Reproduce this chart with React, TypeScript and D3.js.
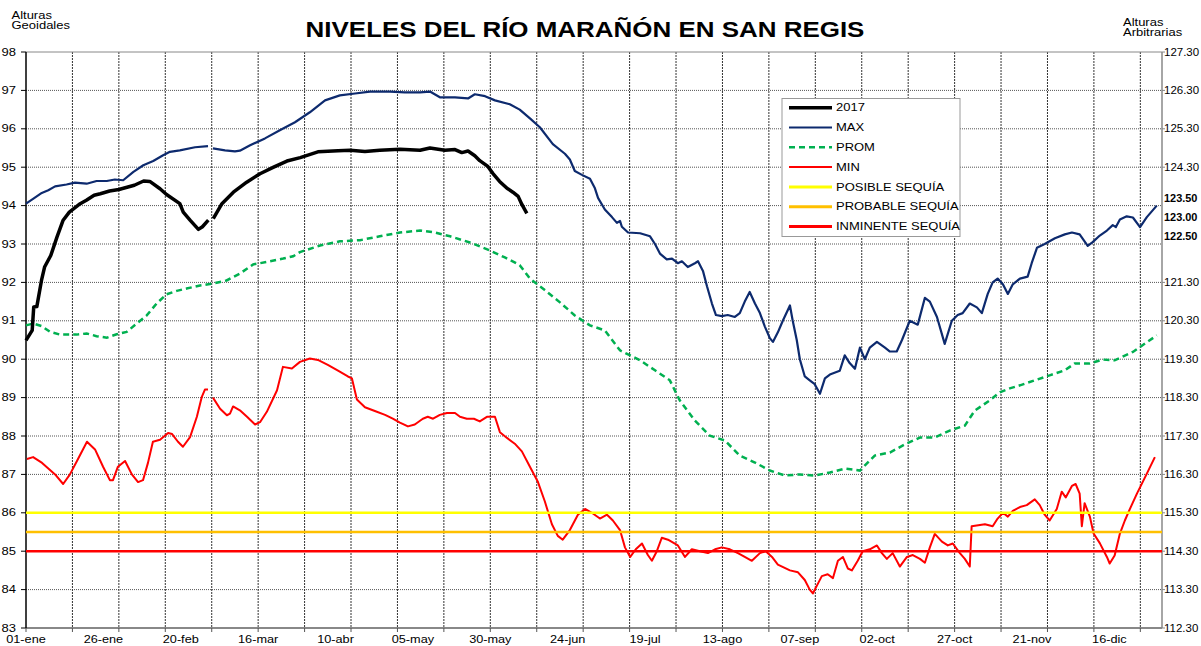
import * as d3 from 'd3';

type Pt = [number, number | null];

// day-of-year (leap year axis, 0 = 01-ene) and level in metres
const SERIE_2017: Pt[] = [
  [0, 90.49], [2, 90.75], [2.5, 91.36], [3.5, 91.37], [5, 92.05], [6, 92.4], [8, 92.7], [10, 93.18],
  [12, 93.62], [14, 93.83], [17.5, 94.05], [19.5, 94.14], [22, 94.27], [24, 94.31], [27, 94.38],
  [30, 94.42], [35, 94.53], [38, 94.64], [40, 94.63], [43.3, 94.44], [45.4, 94.29], [49.7, 94.05],
  [50.8, 93.83], [53, 93.62], [55.7, 93.38], [57, 93.45], [58.9, 93.62], [59.5, null],
  [60.5, 93.66], [63.3, 94.05], [67, 94.35], [71.3, 94.61], [75.6, 94.83], [80, 95.0], [84.3, 95.16],
  [88.6, 95.25], [94.3, 95.4], [100.8, 95.43], [104.7, 95.44], [109.5, 95.41], [114.3, 95.44],
  [120.8, 95.47], [127.3, 95.44], [130.5, 95.5], [135.3, 95.44], [138.6, 95.46], [140.8, 95.38],
  [142.8, 95.42], [145, 95.3], [146.6, 95.17], [149.2, 95.02], [150.8, 94.84], [153, 94.63],
  [155.4, 94.45], [157.3, 94.35], [159, 94.24], [160.2, 94.03], [161.8, 93.8],
];

const SERIE_MAX: Pt[] = [
  [0, 94.05], [2.4, 94.18], [5.1, 94.33], [7.2, 94.4], [9.4, 94.5], [13.1, 94.55], [15.8, 94.6],
  [19.6, 94.57], [22.8, 94.64], [26.1, 94.64], [28.7, 94.68], [31.4, 94.66], [34.7, 94.88],
  [37.9, 95.05], [41.1, 95.16], [44.3, 95.31], [46.5, 95.4], [49.7, 95.44], [54.6, 95.52],
  [58.8, 95.55], [59.5, null], [60.4, 95.49], [64.3, 95.44], [67.5, 95.41], [69.1, 95.43],
  [72.4, 95.57], [77.2, 95.75], [82, 95.96], [86.9, 96.17], [91.7, 96.43], [96.6, 96.74],
  [101.4, 96.87], [106.3, 96.92], [111.1, 96.97], [117.6, 96.97], [122.4, 96.95], [127.3, 96.95],
  [130.5, 96.97], [133.7, 96.82], [138.6, 96.82], [142.8, 96.79], [145, 96.9], [148.3, 96.85],
  [151.5, 96.74], [156.3, 96.64], [159.5, 96.5], [162.8, 96.27], [166, 96.04], [170.2, 95.6],
  [174.1, 95.35], [175.7, 95.2], [177.3, 94.9], [179.6, 94.8], [182.2, 94.7], [183.8, 94.45],
  [184.8, 94.2], [187, 93.9], [189.3, 93.7], [190.9, 93.55], [191.9, 93.6], [192.5, 93.45],
  [194.5, 93.3], [198.4, 93.28], [201.6, 93.2], [203.2, 93.0], [204.8, 92.75], [207, 92.6],
  [208.7, 92.62], [210.6, 92.5], [211.9, 92.55], [213.8, 92.4], [216.1, 92.5], [217.1, 92.55],
  [218.7, 92.3], [220, 91.9], [221.6, 91.45], [222.9, 91.15], [224.8, 91.12], [226.7, 91.15],
  [229, 91.1], [230.6, 91.2], [232.2, 91.5], [233.8, 91.75], [235.5, 91.45], [237.1, 91.2],
  [238.7, 90.85], [240.3, 90.55], [241.3, 90.45], [242.9, 90.7], [244.5, 91.0], [246.8, 91.4],
  [247.7, 91.0], [249, 90.5], [250, 90.0], [251.6, 89.55], [253.2, 89.45], [254.8, 89.35],
  [256.5, 89.1], [258.1, 89.5], [259.7, 89.6], [262.9, 89.7], [264.5, 90.1], [266.1, 89.9],
  [267.8, 89.75], [269.4, 90.3], [271, 90.0], [272.6, 90.3], [274.9, 90.45], [277.5, 90.3],
  [279.1, 90.2], [281.3, 90.2], [283, 90.5], [285.5, 91.0], [288.1, 90.9], [290.4, 91.6],
  [292, 91.5], [294.3, 91.1], [296.8, 90.4], [299.1, 91.0], [301, 91.15], [302.6, 91.2],
  [304.9, 91.45], [307.2, 91.35], [308.8, 91.2], [310.7, 91.7], [312.3, 92.0], [313.9, 92.1],
  [315.6, 91.95], [317.2, 91.7], [318.8, 91.95], [321.1, 92.1], [323.6, 92.15], [324.9, 92.5],
  [326.6, 92.9], [329.1, 93.0], [332.4, 93.15], [335.6, 93.25], [337.9, 93.3], [340.4, 93.25],
  [343, 92.95], [344.6, 93.05], [346.9, 93.22], [349.2, 93.35], [351.1, 93.49], [352.1, 93.44],
  [353.4, 93.64], [355.6, 93.72], [357.6, 93.69], [359.9, 93.44], [362.1, 93.7], [365.3, 94.0],
];

const SERIE_PROM: Pt[] = [
  [0, 90.88], [2.4, 90.93], [5.1, 90.86], [7.8, 90.71], [11, 90.64], [16.4, 90.64], [19.6, 90.67],
  [22.8, 90.6], [26.1, 90.56], [29.3, 90.65], [32.5, 90.71], [35.8, 90.93], [39, 91.14],
  [42.2, 91.45], [45.4, 91.69], [48.7, 91.78], [51.9, 91.84], [56.2, 91.92], [60.5, 91.97],
  [64.8, 92.05], [69.1, 92.23], [73.4, 92.47], [77.7, 92.53], [83.1, 92.62], [86.3, 92.68],
  [88.5, 92.79], [95, 92.96], [101.4, 93.07], [107.9, 93.1], [114.3, 93.2], [120.8, 93.3],
  [127.3, 93.35], [132.1, 93.3], [137, 93.2], [143.4, 93.04], [149.9, 92.83], [154.7, 92.65],
  [159.5, 92.45], [162.8, 92.1], [167.6, 91.8], [172.5, 91.48], [177.3, 91.14], [182.2, 90.88],
  [187, 90.75], [191.9, 90.23], [198.4, 89.97], [203.2, 89.71], [208, 89.45], [211.2, 88.93],
  [216.1, 88.4], [220.9, 88.01], [225.8, 87.88], [230.6, 87.49], [235.5, 87.31], [240.3, 87.1],
  [245.2, 86.97], [250, 87.0], [254.8, 86.97], [259.7, 87.05], [264.5, 87.15], [269.4, 87.1],
  [274.2, 87.49], [279.1, 87.57], [283.9, 87.78], [288.8, 87.96], [293.6, 87.96], [298.4, 88.14],
  [303.3, 88.27], [306.5, 88.66], [311.4, 88.93], [314.6, 89.14], [317.8, 89.24], [321.1, 89.32],
  [325.9, 89.45], [330.7, 89.58], [335.6, 89.71], [338.8, 89.89], [343.7, 89.89], [347.9, 89.99],
  [351.7, 89.97], [357.6, 90.19], [365.3, 90.62],
];

const SERIE_MIN: Pt[] = [
  [0.3, 87.4], [2.3, 87.45], [5.2, 87.3], [9.4, 87.0], [12, 86.75], [14.2, 87.0], [16.8, 87.4],
  [19.7, 87.85], [22.3, 87.65], [24.9, 87.2], [27.1, 86.85], [28.1, 86.85], [29.7, 87.2],
  [32, 87.35], [34.2, 87.0], [36.2, 86.8], [37.8, 86.85], [39.4, 87.3], [41, 87.85], [43.3, 87.9],
  [45.9, 88.08], [47.2, 88.05], [49.1, 87.85], [50.7, 87.72], [53, 87.97], [55.2, 88.5],
  [56.8, 89.02], [57.8, 89.21], [58.8, 89.21], [59.5, null], [60.4, 89.0], [62.7, 88.71],
  [64.9, 88.54], [65.9, 88.58], [66.9, 88.77], [69.1, 88.67], [71.4, 88.5], [74, 88.3],
  [75.6, 88.36], [77.8, 88.63], [81.1, 89.19], [83, 89.8], [85.9, 89.76], [88.5, 89.93],
  [91.7, 90.02], [94.3, 89.98], [97.5, 89.85], [100.8, 89.7], [104, 89.55], [105.3, 89.5],
  [106.9, 88.95], [109.5, 88.75], [112.7, 88.65], [116, 88.55], [118.5, 88.45], [120.8, 88.35],
  [123.4, 88.25], [125.6, 88.3], [128.2, 88.45], [129.8, 88.5], [131.5, 88.45], [133.7, 88.55],
  [136, 88.6], [138.6, 88.6], [140.2, 88.5], [142.4, 88.45], [144.7, 88.45], [146.6, 88.38],
  [148.9, 88.5], [151.5, 88.5], [153.1, 88.1], [155.4, 87.95], [157.9, 87.8], [160.2, 87.6],
  [162.8, 87.2], [165.4, 86.8], [167.6, 86.3], [169.9, 85.7], [171.8, 85.4], [173.4, 85.3],
  [175.7, 85.55], [178.3, 85.95], [180.6, 86.1], [182.8, 86.0], [185.4, 85.85], [187.7, 85.95],
  [189.6, 85.8], [191.9, 85.55], [193.5, 85.1], [195.2, 84.85], [197, 85.05], [199, 85.2],
  [200.9, 84.9], [202.2, 84.75], [203.8, 85.0], [205.4, 85.35], [207.4, 85.3], [210.6, 85.15],
  [212.9, 84.85], [215.1, 85.05], [217.7, 85.0], [220.3, 84.95], [222.6, 85.05], [224.8, 85.1],
  [227.4, 85.05], [230, 84.95], [232.2, 84.85], [234.5, 84.75], [237.1, 84.95], [239, 85.0],
  [241, 84.85], [242.9, 84.65], [246.8, 84.5], [249.4, 84.45], [251.6, 84.25], [253.2, 84.0],
  [254.2, 83.9], [255.8, 84.15], [257.1, 84.35], [259, 84.4], [260.7, 84.3], [262.3, 84.75],
  [263.9, 84.85], [265.5, 84.55], [266.8, 84.5], [268.7, 84.75], [270.3, 85.0], [272.6, 85.05],
  [274.9, 85.15], [276.5, 84.95], [278.1, 84.8], [280, 84.95], [282.3, 84.6], [284.6, 84.85],
  [286.5, 84.9], [288.8, 84.8], [290.4, 84.7], [292, 85.1], [293.6, 85.45], [295.9, 85.25],
  [297.8, 85.15], [299.4, 85.2], [301.7, 84.95], [303.3, 84.8], [304.9, 84.6], [305.5, 85.65],
  [309.8, 85.7], [312.3, 85.65], [313.9, 85.85], [315.6, 86.0], [317.2, 85.9], [318.8, 86.05],
  [321.1, 86.15], [323.3, 86.2], [325.9, 86.35], [327.5, 86.2], [329.1, 85.95], [330.7, 85.8],
  [333, 86.1], [334.6, 86.55], [335.9, 86.4], [337.9, 86.7], [339.1, 86.75], [340.4, 86.5],
  [341.1, 85.65], [342, 86.25], [343.7, 85.9], [344.9, 85.46], [346.9, 85.21], [349.2, 84.85],
  [350.1, 84.68], [351.7, 84.89], [353.4, 85.46], [355, 85.8], [356.9, 86.15], [358.9, 86.5],
  [362.1, 87.02], [364.7, 87.45],
];

const POSIBLE_SEQUIA = 86.0;
const PROBABLE_SEQUIA = 85.5;
const INMINENTE_SEQUIA = 85.0;

const X_LABELS = [
  '01-ene', '26-ene', '20-feb', '16-mar', '10-abr', '05-may', '30-may', '24-jun',
  '19-jul', '13-ago', '07-sep', '02-oct', '27-oct', '21-nov', '16-dic',
];
const Y_TICKS = [83, 84, 85, 86, 87, 88, 89, 90, 91, 92, 93, 94, 95, 96, 97, 98];
const RIGHT_TICKS = [127.3, 126.3, 125.3, 124.3, 121.3, 120.3, 119.3, 118.3, 117.3, 116.3, 115.3, 114.3, 113.3, 112.3];
const RIGHT_BOLD = [123.5, 123.0, 122.5];
const RIGHT_OFFSET = 29.3; // altura arbitraria - altura geoidal

const FONT = "'Liberation Sans', Arial, sans-serif";

function SText({ x, y, children, size = 10, sx = 1.3, anchor = 'start', weight = 'normal' }: any) {
  return (
    <text
      transform={`translate(${x},${y}) scale(${sx},1)`}
      fontSize={size}
      fontFamily={FONT}
      fontWeight={weight}
      textAnchor={anchor}
      fill="#000"
    >
      {children}
    </text>
  );
}

export default function App() {
  const width = 1201;
  const height = 646;
  const left = 26, right = 1162, top = 52, bottom = 628;

  const x = d3.scaleLinear().domain([0, 367]).range([left, right]);
  const y = d3.scaleLinear().domain([83, 98]).range([bottom, top]);

  const line = d3
    .line<Pt>()
    .defined((d) => d[1] !== null)
    .x((d) => x(d[0]))
    .y((d) => y(d[1] as number));

  const gridDays = d3.range(15, 361, 15);
  const tickDays = d3.range(0, 361, 15);

  const legend = [
    { label: '2017', color: '#000000', w: 3.5, dash: '' },
    { label: 'MAX', color: '#0d2a6e', w: 2, dash: '' },
    { label: 'PROM', color: '#00b050', w: 2.5, dash: '6 4' },
    { label: 'MIN', color: '#ff0000', w: 2, dash: '' },
    { label: 'POSIBLE SEQUÍA', color: '#ffff00', w: 3, dash: '' },
    { label: 'PROBABLE SEQUÍA', color: '#ffc000', w: 3, dash: '' },
    { label: 'INMINENTE SEQUÍA', color: '#ff0000', w: 3, dash: '' },
  ];

  const thresholds = [
    { v: POSIBLE_SEQUIA, color: '#ffff00' },
    { v: PROBABLE_SEQUIA, color: '#ffc000' },
    { v: INMINENTE_SEQUIA, color: '#ff0000' },
  ];

  return (
    <svg
      width={width}
      height={height}
      style={{ position: 'absolute', left: 0, top: 0, background: '#fff' }}
    >
      <rect x={0} y={0} width={width} height={height} fill="#fff" />

      {/* grid */}
      {Y_TICKS.filter((v) => v > 83 && v < 98).map((v) => (
        <line key={'h' + v} x1={left} x2={right} y1={y(v)} y2={y(v)} stroke="#555" strokeWidth={1} strokeDasharray="1 1" />
      ))}
      {gridDays.map((d) => (
        <line key={'v' + d} x1={x(d)} x2={x(d)} y1={top} y2={bottom} stroke="#333" strokeWidth={1} strokeDasharray="2 1" />
      ))}

      {/* frame */}
      <line x1={left} x2={right} y1={top} y2={top} stroke="#888" strokeWidth={1} />
      <line x1={right} x2={right} y1={top} y2={bottom} stroke="#888" strokeWidth={1.5} />
      <line x1={left} x2={right} y1={bottom} y2={bottom} stroke="#888" strokeWidth={2} />
      <line x1={left} x2={left} y1={top} y2={bottom} stroke="#000" strokeWidth={1.5} />

      {/* series */}
      <path d={line(SERIE_MAX) || ''} fill="none" stroke="#0d2a6e" strokeWidth={2.2} strokeLinejoin="round" />
      <path d={line(SERIE_PROM) || ''} fill="none" stroke="#00b050" strokeWidth={2.5} strokeDasharray="6 4" />
      <path d={line(SERIE_MIN) || ''} fill="none" stroke="#ff0000" strokeWidth={2} strokeLinejoin="round" />
      <path d={line(SERIE_2017) || ''} fill="none" stroke="#000" strokeWidth={3.5} strokeLinejoin="round" />
      {thresholds.map((t) => (
        <line key={t.color} x1={left} x2={right} y1={y(t.v)} y2={y(t.v)} stroke={t.color} strokeWidth={2.5} />
      ))}

      {/* left axis */}
      {Y_TICKS.map((v) => (
        <g key={'yl' + v}>
          <line x1={left - 5} x2={left} y1={y(v)} y2={y(v)} stroke="#000" />
          <SText x={16} y={y(v) + 3.5} anchor="end">{v}</SText>
        </g>
      ))}

      {/* right axis */}
      {RIGHT_TICKS.map((v) => (
        <g key={'yr' + v}>
          <line x1={right} x2={right + 3} y1={y(v - RIGHT_OFFSET)} y2={y(v - RIGHT_OFFSET)} stroke="#888" />
          <SText x={right + 2} y={y(v - RIGHT_OFFSET) + 3.5} sx={1.15}>{v.toFixed(2)}</SText>
        </g>
      ))}
      {RIGHT_BOLD.map((v) => (
        <SText key={'yb' + v} x={right + 2} y={y(v - RIGHT_OFFSET) + 4} size={10.5} sx={1.04} weight="bold">
          {v.toFixed(2)}
        </SText>
      ))}

      {/* x axis */}
      {tickDays.map((d) => (
        <line key={'xt' + d} x1={x(d)} x2={x(d)} y1={bottom} y2={bottom + 4} stroke="#555" />
      ))}
      {X_LABELS.map((lab, i) => (
        <SText key={lab} x={x(i * 25)} y={643} anchor="middle" sx={1.27}>{lab}</SText>
      ))}

      {/* axis headers and title */}
      <SText x={11.5} y={19}>Alturas</SText>
      <SText x={11.5} y={29}>Geoidales</SText>
      <SText x={1123} y={26}>Alturas</SText>
      <SText x={1123} y={36}>Arbitrarias</SText>
      <SText x={585} y={37} size={22} sx={1.18} anchor="middle" weight="bold">
        NIVELES DEL RÍO MARAÑÓN EN SAN REGIS
      </SText>

      {/* legend */}
      <rect x={782} y={98.5} width={178} height={138} fill="#fff" stroke="#999" strokeWidth={1} />
      {legend.map((l, i) => {
        const ly = 107.7 + i * 19.8;
        return (
          <g key={l.label}>
            <line x1={789} x2={832} y1={ly} y2={ly} stroke={l.color} strokeWidth={l.w} strokeDasharray={l.dash} />
            <SText x={836} y={ly + 3.6}>{l.label}</SText>
          </g>
        );
      })}
    </svg>
  );
}
